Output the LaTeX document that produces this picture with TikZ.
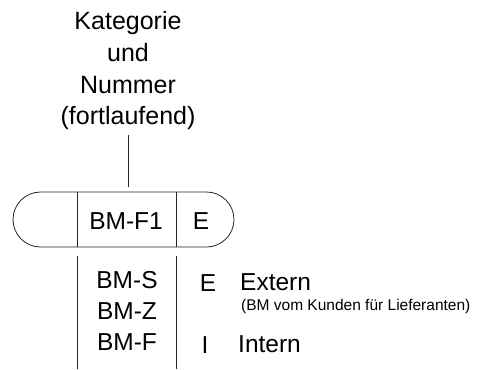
\documentclass[tikz,border=0pt]{standalone}
\usepackage{fontspec}
\setmainfont{Liberation Sans}
\begin{document}
\begin{tikzpicture}[x=1pt,y=-1pt,
  big/.style={font=\fontsize{25}{30}\selectfont, anchor=base, inner sep=0pt},
  mid/.style={font=\fontsize{24.5}{29}\selectfont, anchor=base, inner sep=0pt},
  small/.style={font=\fontsize{15.5}{18}\selectfont, anchor=base west, inner sep=0pt},
  ln/.style={draw=black!85, line width=0.8pt}]
\useasboundingbox (0,0) rectangle (481,369);
% title
\node[big] (t1) at (128,30) {Kategorie};
\node[big] (t2) at (128,61) {und};
\node[big] (t3) at (128,93) {Nummer};
\node[big] (t4) at (128,124) {(fortlaufend)};
% capsule
\node[ln, rectangle, rounded corners=27.5pt, minimum width=221pt, minimum height=55pt, inner sep=0pt] (cap) at (123.5,219.5) {};
\coordinate (d1t) at (77,192);
\coordinate (d1b) at (77,247);
\coordinate (d2t) at (176,192);
\coordinate (d2b) at (176,247);
\draw[ln] (d1t) -- (d1b);
\draw[ln] (d2t) -- (d2b);
\node[mid] (code) at (126,229) {BM-F1};
\node[mid] (flag) at (201,229) {E};
% connector
\coordinate (c1) at (128,135);
\coordinate (c2) at (128,187);
\draw[ln] (c1) -- (c2);
% lower lines
\coordinate (l1t) at (77,256);
\coordinate (l1b) at (77,369);
\coordinate (l2t) at (176,256);
\coordinate (l2b) at (176,369);
\draw[ln] (l1t) -- (l1b);
\draw[ln] (l2t) -- (l2b);
% lists
\node[mid] (bms) at (127,288) {BM-S};
\node[mid] (bmz) at (127,319) {BM-Z};
\node[mid] (bmf) at (127,350) {BM-F};
\node[mid] (e2) at (208,291) {E};
\node[mid, anchor=base west] (ext) at (240,290) {Extern};
\node[small] (note) at (241,310) {(BM vom Kunden für Lieferanten)};
\node[mid] (i2) at (205,353) {I};
\node[mid, anchor=base west] (int) at (238,352) {Intern};
\end{tikzpicture}
\end{document}
